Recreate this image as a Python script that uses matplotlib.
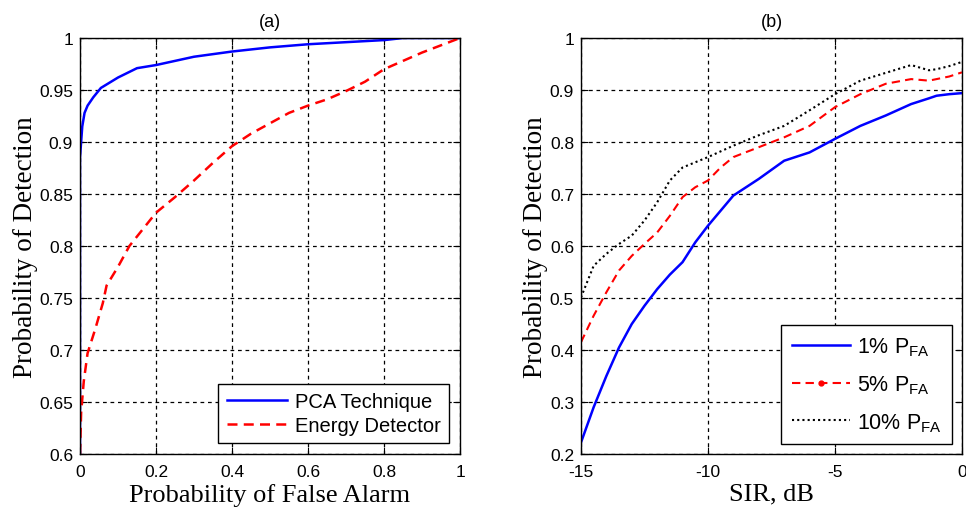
import matplotlib
matplotlib.use("Agg")
import matplotlib.pyplot as plt
from matplotlib.lines import Line2D
from matplotlib.ticker import FormatStrFormatter

plt.rcParams["font.family"] = ["Liberation Sans", "DejaVu Sans"]
plt.rcParams["mathtext.fontset"] = "custom"
plt.rcParams["mathtext.rm"] = "Liberation Sans"
plt.rcParams["mathtext.it"] = "Liberation Sans"
plt.rcParams["axes.unicode_minus"] = False

# panel (a): ROC curves
pca_pfa = [0, 0, 0.003, 0.006, 0.012, 0.02, 0.035, 0.055, 0.1, 0.15, 0.2, 0.3,
           0.4, 0.5, 0.6, 0.7, 0.8, 0.85, 1.0]
pca_pd = [0.6, 0.885, 0.9, 0.915, 0.928, 0.935, 0.943, 0.952, 0.962, 0.971,
          0.974, 0.982, 0.987, 0.991, 0.994, 0.996, 0.998, 1.0, 1.0]

ed_pfa = [0, 0.003, 0.01, 0.02, 0.04, 0.06, 0.07, 0.1, 0.13, 0.2, 0.25, 0.3,
          0.35, 0.4, 0.45, 0.5, 0.55, 0.6, 0.65, 0.7, 0.75, 0.8, 0.85, 0.9,
          0.95, 1.0]
ed_pd = [0.6, 0.64, 0.67, 0.697, 0.72, 0.745, 0.762, 0.78, 0.8, 0.832, 0.847,
         0.863, 0.88, 0.896, 0.908, 0.918, 0.928, 0.935, 0.941, 0.949, 0.958,
         0.97, 0.978, 0.986, 0.993, 1.0]

# panel (b): Pd vs SIR
sir = [-15, -14.5, -14, -13.5, -13, -12.5, -12, -11.5, -11, -10.5, -10, -9.5,
       -9, -8, -7, -6, -5, -4, -3, -2, -1.3, -1, -0.5, 0]
pd_1 = [0.222, 0.29, 0.35, 0.405, 0.45, 0.485, 0.517, 0.545, 0.569, 0.607,
        0.639, 0.668, 0.697, 0.729, 0.764, 0.78, 0.806, 0.831, 0.851, 0.873,
        0.884, 0.889, 0.892, 0.894]
pd_5 = [0.415, 0.466, 0.511, 0.553, 0.581, 0.604, 0.626, 0.658, 0.694, 0.713,
        0.726, 0.751, 0.771, 0.79, 0.809, 0.831, 0.867, 0.892, 0.912, 0.921,
        0.918, 0.921, 0.926, 0.934]
pd_10 = [0.501, 0.562, 0.585, 0.604, 0.62, 0.649, 0.684, 0.726, 0.751, 0.761,
         0.771, 0.782, 0.793, 0.813, 0.831, 0.861, 0.892, 0.918, 0.933, 0.948,
         0.938, 0.94, 0.946, 0.954]

fig = plt.figure(figsize=(9.66, 5.10), dpi=100)
ax1 = fig.add_axes([0.0828, 0.1078, 0.3934, 0.8157])
ax2 = fig.add_axes([0.6014, 0.1078, 0.3944, 0.8157])

serif = ["Liberation Serif", "DejaVu Serif"]
grid_kw = dict(color="black", linestyle=(0, (3, 3)), linewidth=0.9)

for ax in (ax1, ax2):
    ax.tick_params(direction="in", top=True, right=True, labelsize=12.5,
                   length=5, width=0.8, pad=5)
    ax.tick_params(axis="x", pad=7)
    ax.grid(True, **grid_kw)
    ax.set_axisbelow(True)
    for s in ax.spines.values():
        s.set_linewidth(1.0)

# (a)
ax1.plot(pca_pfa, pca_pd, color="blue", lw=1.8, label="PCA Technique")
ax1.plot(ed_pfa, ed_pd, color="red", lw=1.8, linestyle=(0, (4, 2.5)),
         label="Energy Detector")
ax1.set_xlim(0, 1)
ax1.set_ylim(0.6, 1)
ax1.set_xticks([0, 0.2, 0.4, 0.6, 0.8, 1])
ax1.set_yticks([0.6, 0.65, 0.7, 0.75, 0.8, 0.85, 0.9, 0.95, 1])
ax1.xaxis.set_major_formatter(FormatStrFormatter("%g"))
ax1.yaxis.set_major_formatter(FormatStrFormatter("%g"))
ax1.set_title("(a)", fontsize=13, pad=9)
ax1.set_xlabel("Probability of False Alarm", fontsize=19, family=serif, labelpad=3)
ax1.set_ylabel("Probability of Detection", fontsize=19.5, family=serif, labelpad=1)
leg1 = ax1.legend(loc="lower right", fontsize=14.5, fancybox=False, framealpha=1,
                  edgecolor="black", handlelength=3.0, handletextpad=0.4,
                  borderpad=0.4, labelspacing=0.25, borderaxespad=0.55)
leg1.get_frame().set_linewidth(1.0)

# (b)
ax2.plot(sir, pd_1, color="blue", lw=1.8)
ax2.plot(sir, pd_5, color="red", lw=1.5, linestyle=(0, (4, 2.5)))
ax2.plot(sir, pd_10, color="black", lw=1.5, linestyle=(0, (1, 1.5)))
ax2.set_xlim(-15, 0)
ax2.set_ylim(0.2, 1)
ax2.set_xticks([-15, -10, -5, 0])
ax2.set_yticks([0.2, 0.3, 0.4, 0.5, 0.6, 0.7, 0.8, 0.9, 1])
ax2.yaxis.set_major_formatter(FormatStrFormatter("%g"))
ax2.set_title("(b)", fontsize=13, pad=9)
ax2.set_xlabel("SIR, dB", fontsize=19, family=serif, labelpad=3)
ax2.set_ylabel("Probability of Detection", fontsize=19.5, family=serif, labelpad=1)

handles = [
    Line2D([], [], color="blue", lw=1.8),
    Line2D([], [], color="red", lw=1.5, linestyle=(0, (4, 2.5)), marker=".",
           markersize=7, markevery=[1]),
    Line2D([], [], color="black", lw=1.5, linestyle=(0, (1, 1.5))),
]
labels = [r"1% P$_{\rm FA}$", r"5% P$_{\rm FA}$", r"10% P$_{\rm FA}$"]
leg2 = ax2.legend(handles, labels, loc="lower right", fontsize=15.5,
                  fancybox=False, framealpha=1, edgecolor="black",
                  handlelength=2.7, handletextpad=0.3, borderpad=0.5,
                  labelspacing=0.7, borderaxespad=0.45)
leg2.get_frame().set_linewidth(1.0)

fig.savefig("out.png", dpi=100)
